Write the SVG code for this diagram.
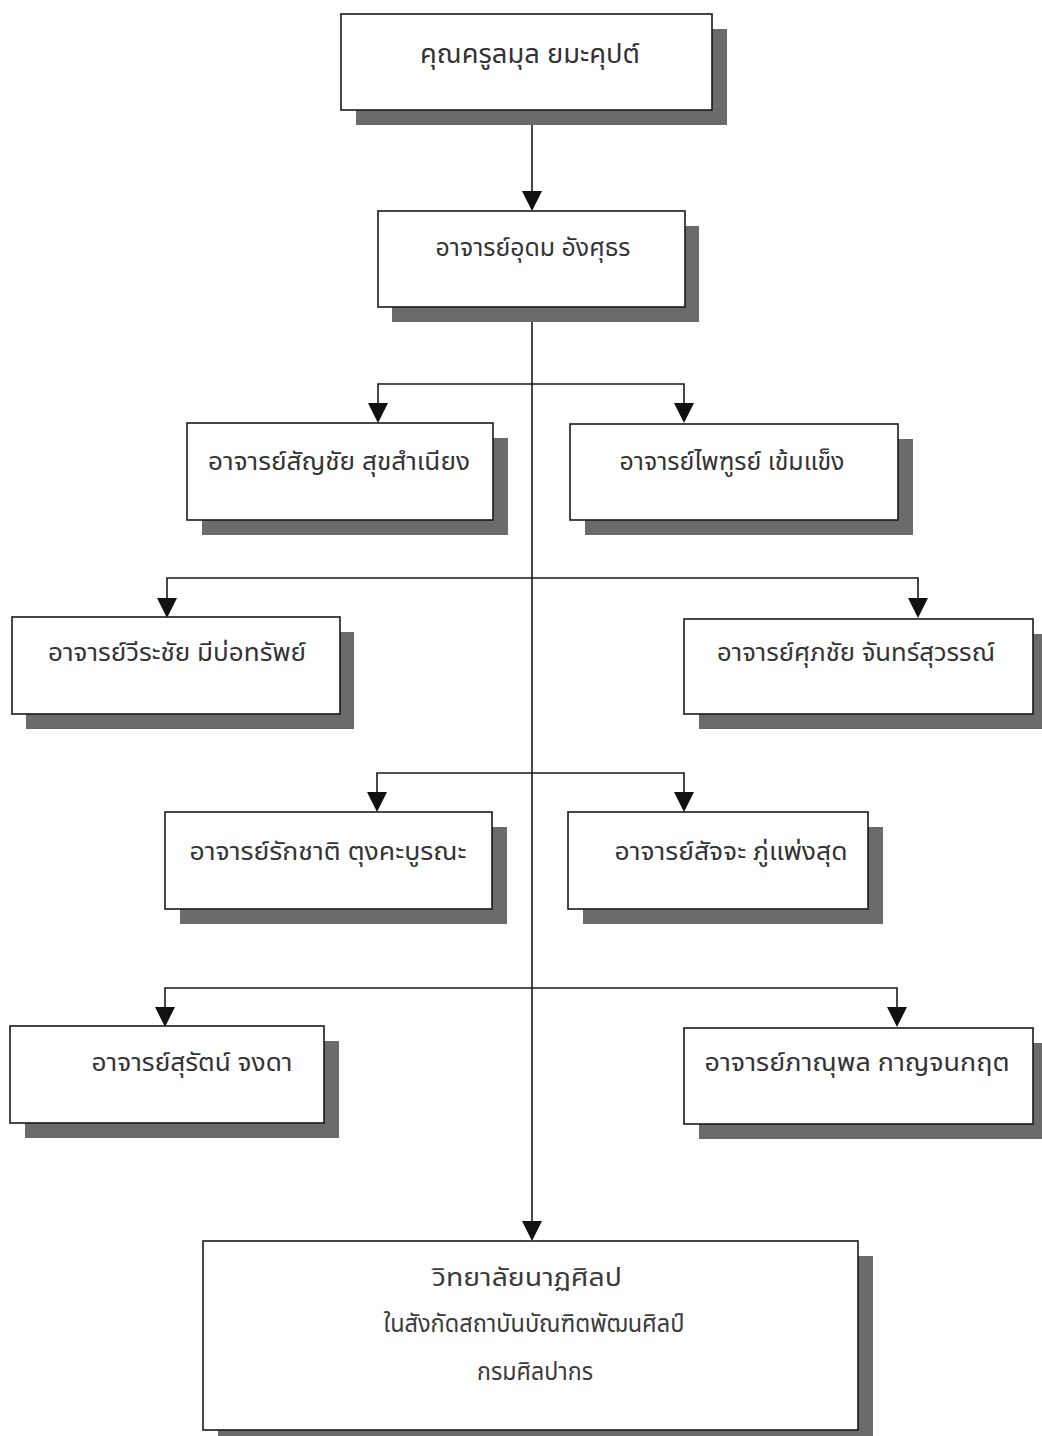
<svg xmlns="http://www.w3.org/2000/svg" width="1042" height="1436" viewBox="0 0 1042 1436">
  <style>
    .box { fill: #ffffff; stroke: #1a1a1a; stroke-width: 1.6; }
    .shadow { fill: #6b6b6b; }
    .label { font-family: "Noto Sans Thai", "Noto Sans", "DejaVu Sans", sans-serif; font-size: 25px; fill: #333333; text-anchor: middle; }
    .big { font-size: 27px; }
    .thin { font-size: 25px; fill: #3a3a3a; }
    .wire { fill: none; stroke: #1a1a1a; stroke-width: 1.6; }
    .head { fill: #111111; }
  </style>
  <rect width="1042" height="1436" fill="#ffffff"/>

  <!-- connectors: trunk, four branch bars and their arrowheads -->
  <g id="connectors">
    <line class="wire" x1="532" y1="110" x2="532" y2="191"/>
    <path class="head" d="M522,191 L542,191 L532,211 Z"/>
    <line class="wire" x1="532" y1="307" x2="532" y2="1221"/>
    <path class="head" d="M522,1221 L542,1221 L532,1241 Z"/>

    <path class="wire" d="M378,403 V384 H684 V403"/>
    <path class="head" d="M368,403 L388,403 L378,423 Z"/>
    <path class="head" d="M674,403 L694,403 L684,423 Z"/>

    <path class="wire" d="M167,598 V578 H918 V598"/>
    <path class="head" d="M157,598 L177,598 L167,618 Z"/>
    <path class="head" d="M908,598 L928,598 L918,618 Z"/>

    <path class="wire" d="M377,792 V773 H684 V792"/>
    <path class="head" d="M367,792 L387,792 L377,812 Z"/>
    <path class="head" d="M674,792 L694,792 L684,812 Z"/>

    <path class="wire" d="M165,1007 V988 H897 V1007"/>
    <path class="head" d="M155,1007 L175,1007 L165,1027 Z"/>
    <path class="head" d="M887,1007 L907,1007 L897,1027 Z"/>
  </g>

  <g id="n-lamun">
    <rect class="shadow" x="356" y="29" width="371" height="96"/>
    <rect class="box" x="341" y="14" width="371" height="96"/>
    <text class="label big" x="530" y="63" textLength="220" lengthAdjust="spacingAndGlyphs">คุณครูลมุล  ยมะคุปต์</text>
  </g>

  <g id="n-udom">
    <rect class="shadow" x="392" y="226" width="307" height="96"/>
    <rect class="box" x="378" y="211" width="307" height="96"/>
    <text class="label" x="533" y="256" textLength="195" lengthAdjust="spacingAndGlyphs">อาจารย์อุดม อังศุธร</text>
  </g>

  <g id="n-sanchai">
    <rect class="shadow" x="202" y="438" width="306" height="97"/>
    <rect class="box" x="187" y="423" width="306" height="97"/>
    <text class="label" x="339" y="470" textLength="262" lengthAdjust="spacingAndGlyphs">อาจารย์สัญชัย สุขสำเนียง</text>
  </g>

  <g id="n-phaithun">
    <rect class="shadow" x="585" y="439" width="328" height="96"/>
    <rect class="box" x="570" y="424" width="328" height="96"/>
    <text class="label" x="732" y="470" textLength="225" lengthAdjust="spacingAndGlyphs">อาจารย์ไพฑูรย์ เข้มแข็ง</text>
  </g>

  <g id="n-weerachai">
    <rect class="shadow" x="26" y="632" width="328" height="97"/>
    <rect class="box" x="12" y="617" width="328" height="97"/>
    <text class="label" x="177" y="661" textLength="258" lengthAdjust="spacingAndGlyphs">อาจารย์วีระชัย มีบ่อทรัพย์</text>
  </g>

  <g id="n-suphachai">
    <rect class="shadow" x="699" y="634" width="349" height="95"/>
    <rect class="box" x="684" y="619" width="349" height="95"/>
    <text class="label" x="856" y="661" textLength="278" lengthAdjust="spacingAndGlyphs">อาจารย์ศุภชัย จันทร์สุวรรณ์</text>
  </g>

  <g id="n-rakchat">
    <rect class="shadow" x="180" y="827" width="327" height="97"/>
    <rect class="box" x="165" y="812" width="327" height="97"/>
    <text class="label" x="328" y="860" textLength="277" lengthAdjust="spacingAndGlyphs">อาจารย์รักชาติ ตุงคะบูรณะ</text>
  </g>

  <g id="n-satja">
    <rect class="shadow" x="583" y="827" width="300" height="97"/>
    <rect class="box" x="568" y="812" width="300" height="97"/>
    <text class="label" x="731" y="860" textLength="233" lengthAdjust="spacingAndGlyphs">อาจารย์สัจจะ ภู่แพ่งสุด</text>
  </g>

  <g id="n-surat">
    <rect class="shadow" x="25" y="1041" width="314" height="97"/>
    <rect class="box" x="10" y="1026" width="314" height="97"/>
    <text class="label" x="192" y="1071" textLength="201" lengthAdjust="spacingAndGlyphs">อาจารย์สุรัตน์ จงดา</text>
  </g>

  <g id="n-phannuphon">
    <rect class="shadow" x="699" y="1043" width="349" height="96"/>
    <rect class="box" x="684" y="1028" width="349" height="96"/>
    <text class="label" x="857" y="1071" textLength="305" lengthAdjust="spacingAndGlyphs">อาจารย์ภาณุพล กาญจนกฤต</text>
  </g>

  <g id="n-college">
    <rect class="shadow" x="218" y="1256" width="655" height="189"/>
    <rect class="box" x="203" y="1241" width="655" height="189"/>
    <text class="label thin" x="527" y="1286" textLength="190" lengthAdjust="spacingAndGlyphs">วิทยาลัยนาฏศิลป</text>
    <text class="label thin" x="534" y="1332" textLength="301" lengthAdjust="spacingAndGlyphs">ในสังกัดสถาบันบัณฑิตพัฒนศิลป์</text>
    <text class="label thin" x="535" y="1380" textLength="116" lengthAdjust="spacingAndGlyphs">กรมศิลปากร</text>
  </g>
</svg>
